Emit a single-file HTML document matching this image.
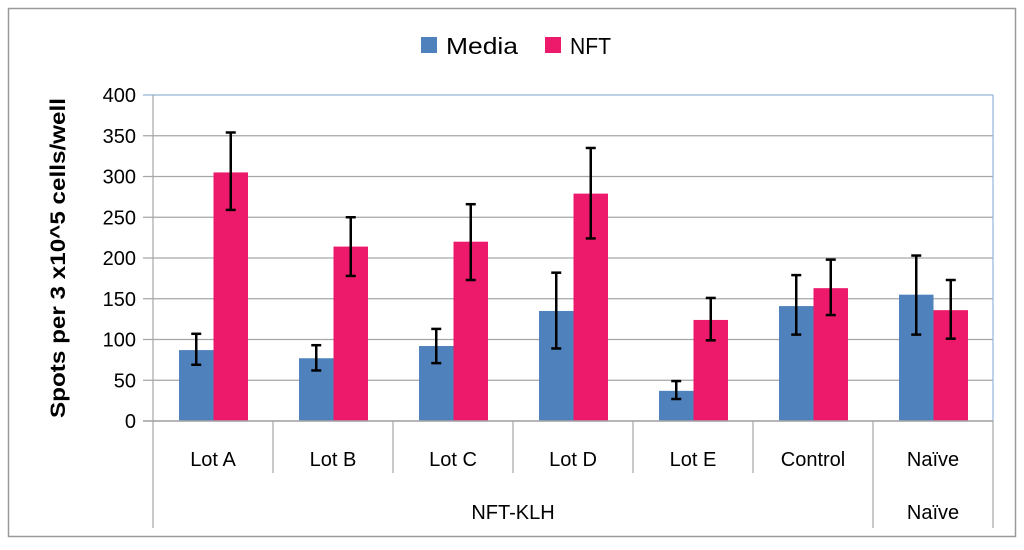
<!DOCTYPE html>
<html><head><meta charset="utf-8"><style>
body{margin:0;background:#fff;font-family:"Liberation Sans",sans-serif}
</style></head><body>
<svg id="chart" width="1024" height="545" xmlns="http://www.w3.org/2000/svg" font-family="Liberation Sans, sans-serif">
<rect x="8.5" y="8.5" width="1007" height="528" fill="#fff" stroke="#999" stroke-width="1.5"/>
<g>
<rect x="421" y="37" width="16" height="16" fill="#4f81bd"/>
<text x="446" y="54" font-size="23" textLength="72" lengthAdjust="spacingAndGlyphs">Media</text>
<rect x="545" y="37" width="16" height="16" fill="#ed1a6b"/>
<text x="570" y="54" font-size="23" textLength="41" lengthAdjust="spacingAndGlyphs">NFT</text>
</g>
<text transform="translate(65,258) rotate(-90)" text-anchor="middle" font-size="21" font-weight="bold" textLength="320" lengthAdjust="spacingAndGlyphs">Spots per 3 x10^5 cells/well</text>
<g id="grid"></g><g id="bars"></g><g id="axes"></g>
</svg>
<script>
const categories=["Lot A","Lot B","Lot C","Lot D","Lot E","Control","Naïve"];
const media=[87,77,92,135,37,141,155];
const mediaLow=[69,62,71,89,27,106,106];
const mediaHigh=[107,93,113,182,49,179,203];
const nft=[305,214,220,279,124,163,136];
const nftLow=[259,178,173,224,99,130,101];
const nftHigh=[354,250,266,335,151,198,173];
const yTicks=[0,50,100,150,200,250,300,350,400];
const groups=[{label:"NFT-KLH",from:0,to:6},{label:"Naïve",from:6,to:7}];
const NS="http://www.w3.org/2000/svg";
const X0=153,X1=993,Y0=421,Y1=95,YMAX=400;
const cw=(X1-X0)/categories.length;
const y=v=>Y0-(v/YMAX)*(Y0-Y1);
const xc=i=>X0+i*cw;
function mk(p,t,a){const e=document.createElementNS(NS,t);for(const k in a)e.setAttribute(k,a[k]);p.appendChild(e);return e;}
const grid=document.getElementById('grid'),bars=document.getElementById('bars'),axes=document.getElementById('axes');
yTicks.forEach(t=>{
 const l=mk(grid,'line',{x1:143,x2:X1,y1:y(t),y2:y(t),stroke:t===YMAX?'#95b3d7':'#a6a6a6','stroke-width':1.2});
 
 
 const tx=mk(axes,'text',{x:136,y:y(t)+7,'text-anchor':'end','font-size':20});
 tx.textContent=t;
 
 
});
const r=mk(grid,'line',{x1:X1,x2:X1,y1:Y1,y2:Y0,stroke:'#95b3d7','stroke-width':1.2});


const bw=34.5,off=26;
function err(i,lo,hi,cx,nm){
 const g=mk(bars,'g',{stroke:'#000','stroke-width':2.5});
 
 
 mk(g,'line',{x1:cx,x2:cx,y1:y(lo),y2:y(hi)});
 mk(g,'line',{x1:cx-5,x2:cx+5,y1:y(lo),y2:y(lo)});
 mk(g,'line',{x1:cx-5,x2:cx+5,y1:y(hi),y2:y(hi)});
}
categories.forEach((c,i)=>{
 const bx=xc(i)+off;
 const b1=mk(bars,'rect',{x:bx,y:y(media[i]),width:bw,height:Y0-y(media[i]),fill:'#4f81bd'});
 
 
 const b2=mk(bars,'rect',{x:bx+bw,y:y(nft[i]),width:bw,height:Y0-y(nft[i]),fill:'#ed1a6b'});
 
 
 err(i,mediaLow[i],mediaHigh[i],bx+bw/2,'error-media-'+i);
 err(i,nftLow[i],nftHigh[i],bx+bw*1.5,'error-nft-'+i);
 const t=mk(axes,'text',{x:xc(i)+cw/2,y:466,'text-anchor':'middle','font-size':20});
 t.textContent=c;
 
 
});
mk(axes,'line',{x1:X0,x2:X0,y1:Y1,y2:528,stroke:'#a6a6a6','stroke-width':1.2});
mk(axes,'line',{x1:143,x2:X1,y1:Y0,y2:Y0,stroke:'#a6a6a6','stroke-width':1.5});
for(let i=1;i<categories.length;i++){
 const bound=groups.some(g=>g.from===i);
 const l=mk(axes,'line',{x1:xc(i),x2:xc(i),y1:Y0,y2:bound?528:473,stroke:'#a6a6a6','stroke-width':1.2});
 
 
}
mk(axes,'line',{x1:X1,x2:X1,y1:Y0,y2:528,stroke:'#a6a6a6','stroke-width':1.2});
groups.forEach((g,k)=>{
 const t=mk(axes,'text',{x:(xc(g.from)+xc(g.to))/2,y:519,'text-anchor':'middle','font-size':20});
 t.textContent=g.label;
 
 
});
</script>
</body></html>
